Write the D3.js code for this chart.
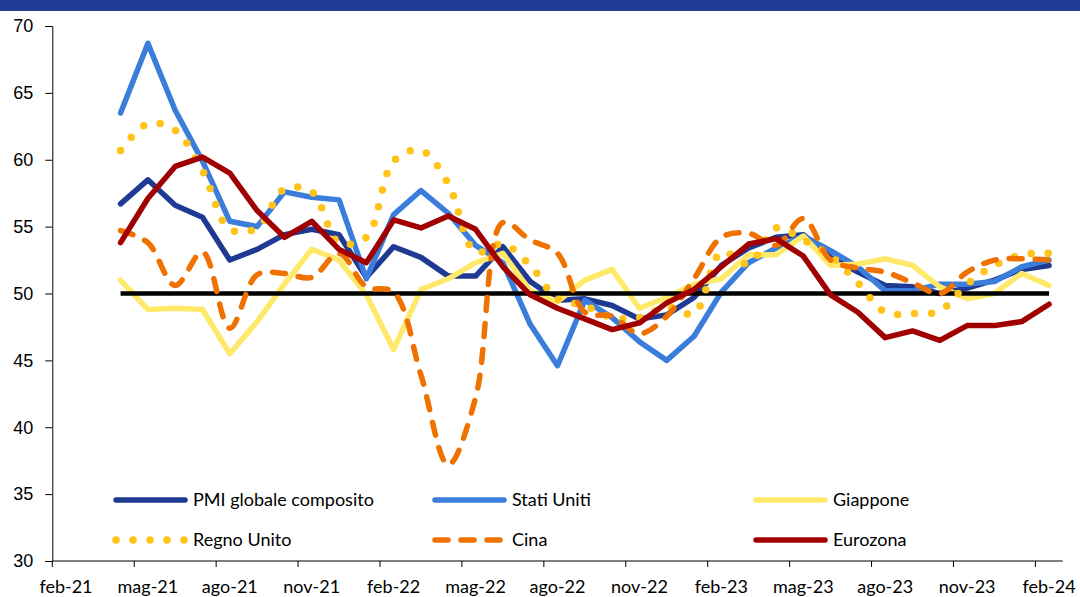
<!DOCTYPE html>
<html>
<head>
<meta charset="utf-8">
<script src="https://cdn.jsdelivr.net/npm/d3@7"></script>
<style>
  html, body { margin: 0; padding: 0; background: #fff; }
  svg { display: block; font-family: Lato, "Open Sans", sans-serif; }
</style>
</head>
<body>
<svg id="chart" width="1080" height="597"></svg>
<script>
// month labels of the category axis, feb-21 .. feb-24
var categories = ["feb-21","mar-21","apr-21","mag-21","giu-21","lug-21","ago-21","set-21","ott-21","nov-21","dic-21",
  "gen-22","feb-22","mar-22","apr-22","mag-22","giu-22","lug-22","ago-22","set-22","ott-22","nov-22","dic-22",
  "gen-23","feb-23","mar-23","apr-23","mag-23","giu-23","lug-23","ago-23","set-23","ott-23","nov-23","dic-23",
  "gen-24","feb-24"];
// series start at apr-21
var firstMonth = "apr-21";
var tickLabels = ["feb-21","mag-21","ago-21","nov-21","feb-22","mag-22","ago-22","nov-22","feb-23","mag-23","ago-23","nov-23","feb-24"];
var yTicks = [30, 35, 40, 45, 50, 55, 60, 65, 70];
var threshold = 50;

var globale = [56.7,58.5,56.6,55.7,52.5,53.3,54.4,54.8,54.4, 51.2,53.5,52.7,51.3,51.3,53.5,50.9,49.5,49.6,49.1,48.1,48.4,
  49.7,52.1,53.4,54.2,54.4,52.7,51.6,50.6,50.5,50.0,50.4,51.0, 51.8,52.1];
var statiUniti = [63.5,68.7,63.7,59.9,55.4,55.0,57.6,57.2,57.0, 51.1,55.9,57.7,56.0,53.6,52.3,47.7,44.6,49.5,48.2,46.4,45.0,
  46.8,50.1,52.3,53.4,54.3,53.2,52.0,50.2,50.2,50.7,50.7,50.9, 52.0,52.5];
var giappone = [51.0,48.8,48.9,48.8,45.5,47.9,50.7,53.3,52.5, 49.9,45.8,50.3,51.1,52.3,53.0,50.2,49.4,51.0,51.8,48.9,49.7,
  50.7,51.1,52.9,52.9,54.3,52.1,52.2,52.6,52.1,50.5,49.6,50.0, 51.5,50.6];
var regnoUnito = [60.7,62.7,62.2,59.2,54.8,54.9,57.8,57.6,53.8, 54.2,59.9,60.7,58.2,53.1,53.7,52.1,49.6,49.1,48.2,48.2,49.0,
  48.5,53.1,52.2,54.9,54.0,52.8,50.8,48.6,48.5,48.7,50.7,52.1, 52.9,53.0];
var cina = [54.7,53.8,50.6,53.1,47.4,51.4,51.5,51.2,53.0, 50.5,50.1,43.9,37.2,42.2,55.3,54.0,53.0,48.6,48.3,47.0,48.3,
  51.1,54.2,54.5,53.6,55.6,52.5,51.9,51.6,50.8,50.0,51.6,52.5, 52.6,52.5];
var eurozona = [53.8,57.1,59.5,60.2,59.0,56.2,54.2,55.4,53.3, 52.3,55.5,54.9,55.8,54.8,52.0,49.9,48.9,48.1,47.3,47.8,49.3,
  50.3,52.0,53.7,54.1,52.8,49.9,48.6,46.7,47.2,46.5,47.6,47.6, 47.9,49.2];

var series = [
  { name: "PMI globale composito", values: globale, color: "#1f3a93", smooth: false },
  { name: "Stati Uniti", values: statiUniti, color: "#3a7ddb", smooth: false },
  { name: "Giappone", values: giappone, color: "#ffe96b", smooth: false },
  { name: "Regno Unito", values: regnoUnito, color: "#ffc31a", smooth: true, dash: "0 17", width: 7.5 },
  { name: "Cina", values: cina, color: "#ef7100", smooth: true, dash: "13 13" },
  { name: "Eurozona", values: eurozona, color: "#a00000", smooth: false }
];

var svg = d3.select("#chart");

// header band
svg.append("rect").attr("x", 0).attr("y", 0).attr("width", 1080).attr("height", 11).attr("fill", "#203a96");

var x = d3.scaleBand().domain(categories).range([52.3, 1062.7]).padding(0);
var y = d3.scaleLinear().domain([30, 70]).range([561, 26]);
var start = categories.indexOf(firstMonth);
var cx = function(i) { return x(categories[start + i]) + x.bandwidth() / 2; };

// y axis
var yAxis = svg.append("g").attr("transform", "translate(" + 52.3 + ",0)")
  .call(d3.axisLeft(y).tickValues(yTicks).tickSize(7).tickPadding(12).tickFormat(d3.format("d")));
yAxis.selectAll("text").attr("font-size", 18).attr("fill", "#000");
yAxis.selectAll("line, path").attr("stroke", "#000");

// x axis: ticks on category boundaries, labels centred in the month
var xAxis = svg.append("g").attr("transform", "translate(0," + 561 + ")");
xAxis.append("line").attr("x1", 52.3).attr("x2", 1062.7).attr("stroke", "#000");
var xt = xAxis.selectAll(".xt").data(tickLabels).enter().append("g").attr("class", "xt")
  .attr("transform", function(d) { return "translate(" + x(d) + ",0)"; });
xt.append("line").attr("y2", 6).attr("stroke", "#000");
xt.append("text").attr("x", x.bandwidth() / 2).attr("y", 32).attr("text-anchor", "middle")
  .attr("font-size", 18).attr("fill", "#000").text(function(d) { return d; });

var plot = svg.append("g");
function drawSeries(s) {
  var line = d3.line()
    .x(function(d, i) { return cx(i); })
    .y(function(d) { return y(d); })
    .curve(s.smooth ? d3.curveCatmullRom.alpha(0.5) : d3.curveLinear);
  plot.append("path").datum(s.values)
    .attr("d", line)
    .attr("fill", "none")
    .attr("stroke", s.color)
    .attr("stroke-width", s.width || 5.5)
    .attr("stroke-linejoin", "round")
    .attr("stroke-linecap", "round")
    .attr("stroke-dasharray", s.dash || null);
}

series.slice(0, 3).forEach(drawSeries);
// 50 reference line
plot.append("line")
  .attr("x1", cx(0)).attr("x2", cx(globale.length - 1))
  .attr("y1", y(threshold)).attr("y2", y(threshold))
  .attr("stroke", "#000").attr("stroke-width", 4.5);
series.slice(3).forEach(drawSeries);

// legend
var legX = [116, 435, 756];
var legY = [500, 540];
var leg = svg.append("g");
series.forEach(function(s, i) {
  var lx = legX[i % 3], ly = legY[Math.floor(i / 3)];
  leg.append("line").attr("x1", lx).attr("x2", lx + 69).attr("y1", ly).attr("y2", ly)
    .attr("stroke", s.color).attr("stroke-width", s.width || 5.5)
    .attr("stroke-linecap", "round")
    .attr("stroke-dasharray", s.dash || null);
  leg.append("text").attr("x", lx + 77).attr("y", ly).attr("dy", "0.35em")
    .attr("font-size", 18).attr("fill", "#000").text(s.name);
});
</script>
</body>
</html>
